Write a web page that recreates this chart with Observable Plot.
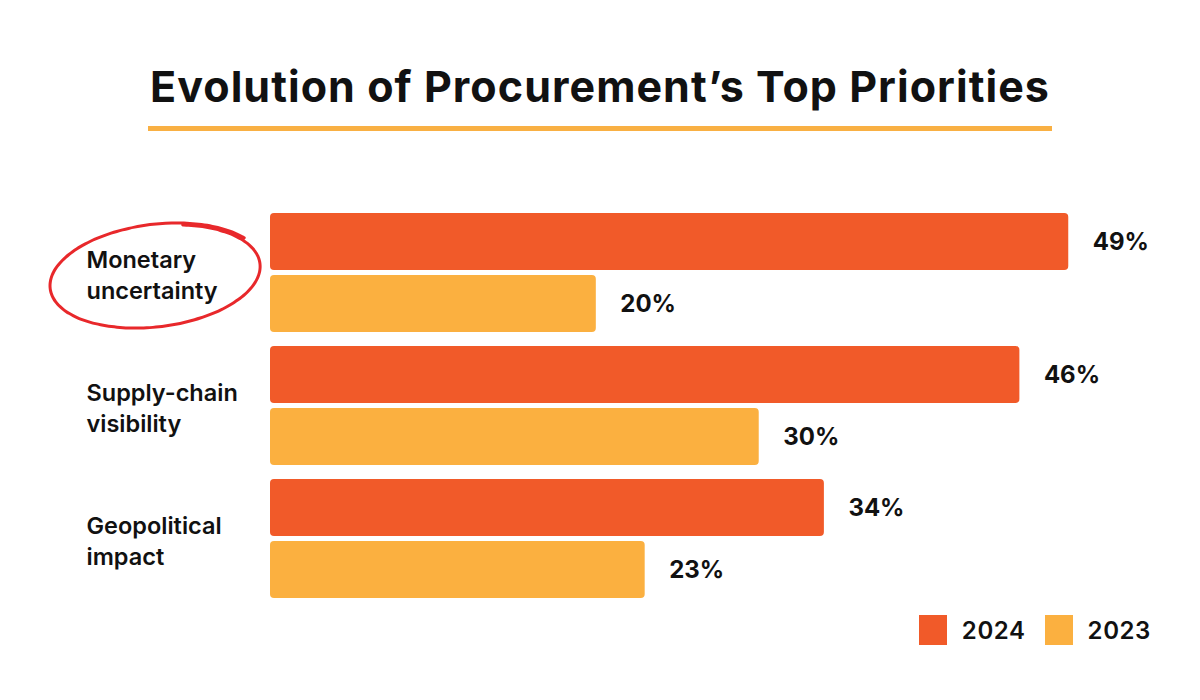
<!DOCTYPE html>
<html><head><meta charset="utf-8">
<script src="https://cdn.jsdelivr.net/npm/d3@7"></script>
<script src="https://cdn.jsdelivr.net/npm/@observablehq/plot@0.6"></script>
<style>
body{margin:0;background:#fff;font-family:Inter,"Open Sans",sans-serif;}
#wrap{width:1200px;height:700px;position:relative;overflow:hidden;background:#fff}
#title{position:absolute;left:0;top:58px;width:1200px;text-align:center;font-size:43px;font-weight:700;color:#111;line-height:56px;letter-spacing:1.05px}
#rule{position:absolute;left:148px;top:126px;width:904px;height:5px;background:#f9b043}
#chart{position:absolute;left:0;top:150px}
#legend{position:absolute;top:615px;right:49px;display:flex;align-items:center;font-size:24px;font-weight:600;color:#111;letter-spacing:0.6px}
.sw{width:28px;height:30px;margin-right:15px}
.it{display:flex;align-items:center;margin-left:19px}
</style>
</head><body>
<div id="wrap">
  <div id="title">Evolution of Procurement’s Top Priorities</div>
  <div id="rule"></div>
  <div id="chart"></div>
  <div id="legend"></div>
</div>
<script>
const categories = ["Monetary uncertainty","Supply-chain visibility","Geopolitical impact"];
const categoryLabels = ["Monetary\nuncertainty","Supply-chain\nvisibility","Geopolitical\nimpact"];
const years = ["2024","2023"];
const values2024 = [49,46,34];
const values2023 = [20,30,23];
const colors = ["#f15a29","#fbb040"];

const rows = [];
categories.forEach((c,i)=>{
  rows.push({category:c,year:"2024",value:values2024[i]});
  rows.push({category:c,year:"2023",value:values2023[i]});
});
const cats = categories.map((c,i)=>({category:c,label:categoryLabels[i]}));

const plot = Plot.plot({
  width:1200,height:465,
  marginLeft:270,marginRight:34,marginTop:63,marginBottom:16,
  style:{fontFamily:"Inter, 'Open Sans', sans-serif",background:"transparent",overflow:"visible"},
  x:{domain:[0,55],axis:null},
  y:{domain:years,axis:null,paddingInner:0.08,paddingOuter:0},
  fy:{domain:categories,axis:null,paddingInner:0.1,paddingOuter:0},
  color:{domain:years,range:colors},
  marks:[
    Plot.barX(rows,{x:"value",y:"year",fy:"category",fill:"year",rx:4}),
    Plot.text(rows,{x:"value",y:"year",fy:"category",text:d=>d.value+"%",dx:24,textAnchor:"start",fontSize:24,fontWeight:700,fill:"#111",style:"letter-spacing:1.2px"}),
    Plot.text(cats,{fy:"category",text:"label",frameAnchor:"left",dx:-184,textAnchor:"start",lineHeight:1.32,fontSize:23.5,fontWeight:600,fill:"#111",style:"letter-spacing:1.8px"})
  ]
});
document.getElementById("chart").appendChild(plot);

// hand-drawn ellipse annotation around the first category label
const fy = plot.scale("fy");
const cy = fy.apply(categories[0]) + fy.bandwidth/2 + 3;
const cx = 270 - 114;
const rot = -7*Math.PI/180;
const pts = [];
const t0 = -1.25, t1 = t0 + 2*Math.PI + 0.7;
for (let k=0;k<=120;k++){
  const t = t0 + (t1-t0)*k/120;
  const g = 1 + 0.04*(k/120);
  const ex = 104*g*Math.cos(t), ey = 50*g*Math.sin(t);
  pts.push([cx + ex*Math.cos(rot) - ey*Math.sin(rot), cy + ex*Math.sin(rot) + ey*Math.cos(rot)]);
}
d3.select(plot).append("path")
  .attr("d", d3.line().curve(d3.curveBasis)(pts))
  .attr("fill","none").attr("stroke","#e8282b").attr("stroke-width",3).attr("stroke-linecap","round");

const lg = d3.select("#legend");
years.forEach((y,i)=>{
  const it = lg.append("div").attr("class","it");
  it.append("div").attr("class","sw").style("background",colors[i]);
  it.append("span").text(y);
});
</script>
</body></html>
